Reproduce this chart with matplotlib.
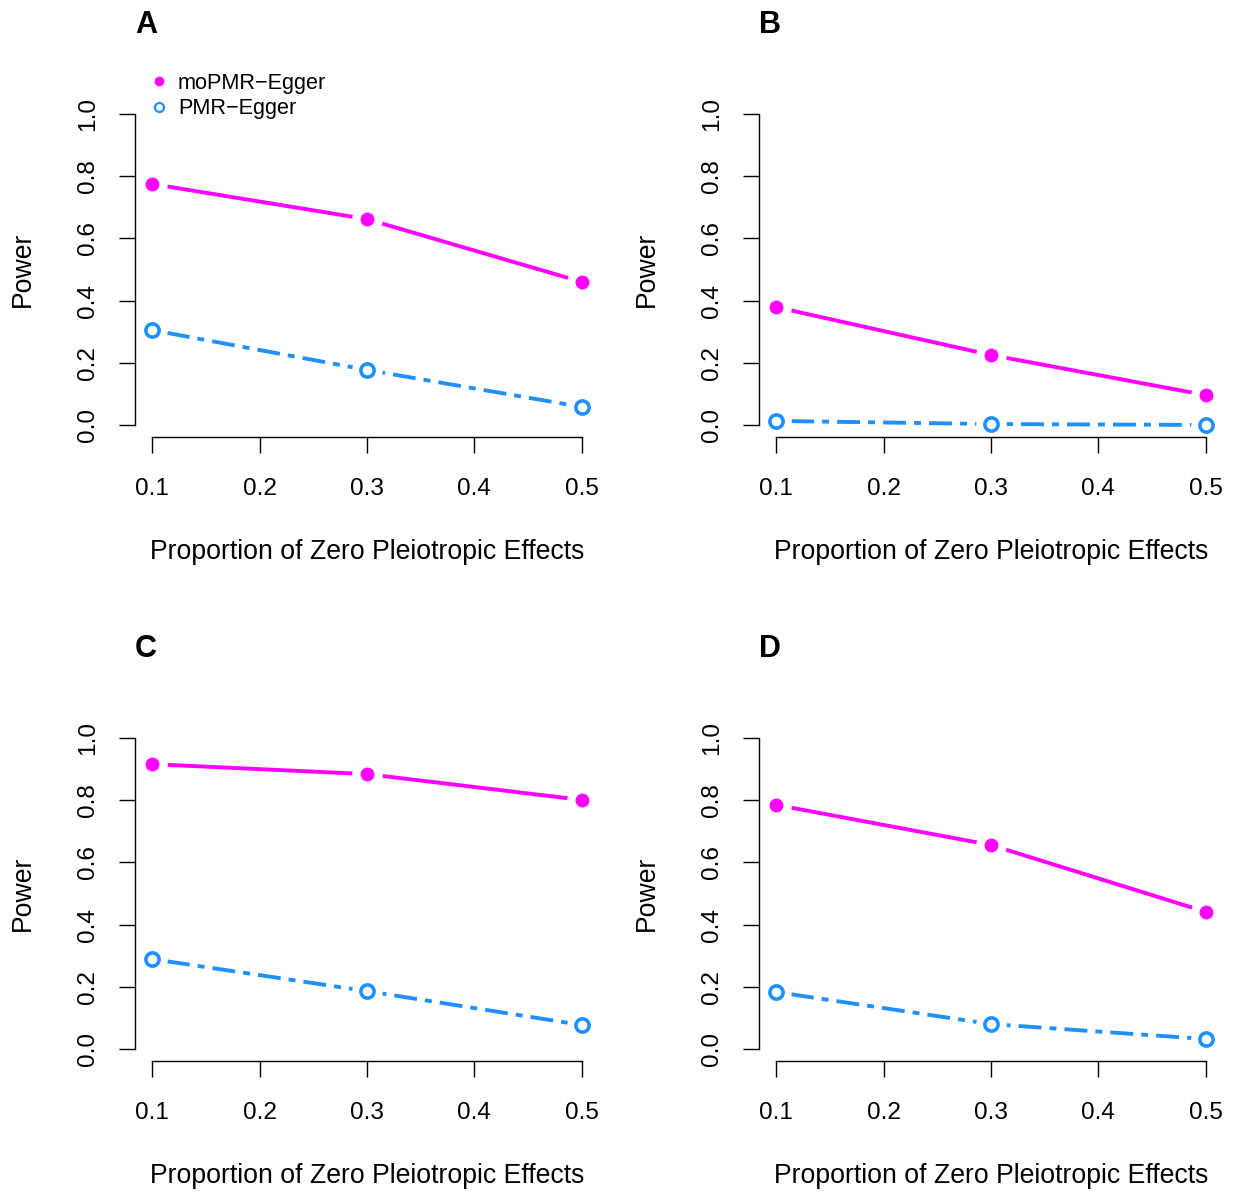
import matplotlib
matplotlib.use('Agg')
import matplotlib.pyplot as plt
from matplotlib.lines import Line2D

plt.rcParams['font.family'] = ['Liberation Sans', 'DejaVu Sans']
plt.rcParams['lines.scale_dashes'] = False

proportions = [0.1, 0.3, 0.5]
panel_letters = ['A', 'B', 'C', 'D']
mopmr_power = [
    [0.775, 0.662, 0.460],
    [0.379, 0.225, 0.096],
    [0.916, 0.884, 0.801],
    [0.785, 0.656, 0.441],
]
pmr_power = [
    [0.305, 0.177, 0.058],
    [0.013, 0.003, 0.000],
    [0.289, 0.186, 0.077],
    [0.183, 0.080, 0.032],
]
x_ticks = [0.1, 0.2, 0.3, 0.4, 0.5]
y_ticks = [0.0, 0.2, 0.4, 0.6, 0.8, 1.0]

MAGENTA = '#ff00ff'
BLUE = '#1e90ff'
W, H = 1235, 1192

fig = plt.figure(figsize=(W / 100, H / 100), dpi=100)

# plot regions in pixels: (left, top); each region is 464 x 336
origins = [(135, 101.6), (759, 101.6), (135, 725.6), (759, 725.6)]
pw, ph = 464, 335.8

DOTDASH = (0, (5, 5.8, 16.5, 5.8))


def draw_series(ax, xs, ys, color, filled, dashes):
    ax.plot(xs, ys, color=color, lw=2.8, linestyle=dashes, zorder=2,
            solid_capstyle='butt', dash_capstyle='butt')
    # white halo so the line stops short of each point
    ax.plot(xs, ys, 'o', ms=21, color='white', mec='white', zorder=2.2)
    if filled:
        ax.plot(xs, ys, 'o', ms=9, color=color, mec=color, zorder=3)
    else:
        ax.plot(xs, ys, 'o', ms=9.5, mfc='white', mec=color, mew=2.6, zorder=3)


for i, (left, top) in enumerate(origins):
    ax = fig.add_axes([left / W, 1 - (top + ph) / H, pw / W, ph / H])
    draw_series(ax, proportions, mopmr_power[i], MAGENTA, True, '-')
    draw_series(ax, proportions, pmr_power[i], BLUE, False, DOTDASH)

    ax.set_xlim(0.084, 0.516)
    ax.set_ylim(-0.04, 1.04)
    ax.set_xticks(x_ticks)
    ax.set_xticklabels([f'{v:.1f}' for v in x_ticks])
    ax.set_yticks(y_ticks)
    ax.set_yticklabels([f'{v:.1f}' for v in y_ticks], rotation=90, va='center')

    for side in ('top', 'right'):
        ax.spines[side].set_visible(False)
    ax.spines['left'].set_bounds(0, 1)
    ax.spines['bottom'].set_bounds(0.1, 0.5)
    ax.spines['left'].set_linewidth(1.0)
    ax.spines['bottom'].set_linewidth(1.0)
    ax.tick_params(axis='both', length=11.5, width=1.0, labelsize=17.6)
    ax.tick_params(axis='x', pad=17.8)
    ax.tick_params(axis='y', pad=14.5)

    ax.set_xlabel('Proportion of Zero Pleiotropic Effects', fontsize=19.2, va='center')
    ax.xaxis.set_label_coords(0.5, -114.5 / ph)
    ax.set_ylabel('Power', fontsize=19.2, va='center')
    ax.yaxis.set_label_coords(-(135 - 23) / pw, 0.5)

    fig.text((left + 11) / W, 1 - (top - 76.6) / H, panel_letters[i],
             fontsize=22, fontweight='bold', ha='center', va='center')

    if i == 0:
        handles = [
            Line2D([], [], ls='none', marker='o', ms=6, color=MAGENTA, mec=MAGENTA),
            Line2D([], [], ls='none', marker='o', ms=6.5, mfc='white', mec=BLUE, mew=1.6),
        ]
        ax.legend(handles, ['moPMR\u2212Egger', 'PMR\u2212Egger'],
                  loc='upper left', bbox_to_anchor=(0.033, 1.085),
                  frameon=False, fontsize=15.6, handlelength=0.8,
                  handletextpad=0.47, labelspacing=0.2, borderpad=0,
                  borderaxespad=0)

fig.savefig('out.png', dpi=100)
